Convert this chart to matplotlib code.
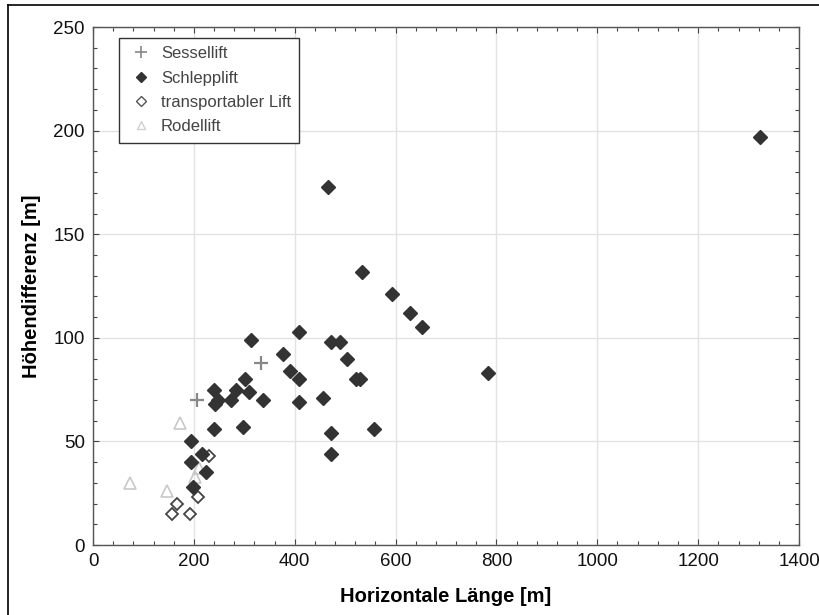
import matplotlib.pyplot as plt
from matplotlib.ticker import MultipleLocator
from matplotlib.lines import Line2D

plt.rcParams['font.family'] = ['Liberation Sans', 'DejaVu Sans']

# Schlepplift
schlepp_x = [313, 376, 391, 239, 283, 301, 309, 337, 248, 242, 274, 239, 298,
             194, 217, 194, 225, 199, 465, 533, 593, 628, 652, 409, 471, 490,
             504, 409, 521, 529, 783, 457, 409, 558, 472, 472, 1323]
schlepp_y = [99, 92, 84, 75, 75, 80, 74, 70, 70, 68, 70, 56, 57,
             50, 44, 40, 35, 28, 173, 132, 121, 112, 105, 103, 98, 98,
             90, 80, 80, 80, 83, 71, 69, 56, 54, 44, 197]

# Sessellift
sessel_x = [207, 334]
sessel_y = [70, 88]

# transportabler Lift
transp_x = [229, 208, 166, 157, 192]
transp_y = [43, 23, 20, 15, 15]

# Rodellift
rodel_x = [172, 74, 147, 202, 211]
rodel_y = [59, 30, 26, 33, 37]

fig = plt.figure(figsize=(8.19, 6.15), dpi=100)
ax = fig.add_axes([0.1136, 0.1138, 0.8620, 0.8422])

ax.plot(rodel_x, rodel_y, linestyle='none', marker='^', ms=8,
        mfc='none', mec='#c8c8c8', mew=1.2, label='Rodellift', zorder=3)
ax.plot(transp_x, transp_y, linestyle='none', marker='D', ms=6.5,
        mfc='white', mec='#444444', mew=1.3, label='transportabler Lift', zorder=4)
ax.plot(schlepp_x, schlepp_y, linestyle='none', marker='D', ms=7,
        mfc='#333333', mec='#333333', label='Schlepplift', zorder=5)
ax.plot(sessel_x, sessel_y, linestyle='none', marker='+', ms=10,
        mec='#888888', mew=1.6, label='Sessellift', zorder=6)

ax.set_xlim(0, 1400)
ax.set_ylim(0, 250)
ax.xaxis.set_major_locator(MultipleLocator(200))
ax.xaxis.set_minor_locator(MultipleLocator(40))
ax.yaxis.set_major_locator(MultipleLocator(50))
ax.yaxis.set_minor_locator(MultipleLocator(10))
ax.tick_params(which='both', direction='in', top=True, right=True,
               color='#444444', width=0.8)
ax.tick_params(which='major', length=4, pad=6, labelsize=13.5, labelcolor='#111111')
ax.tick_params(which='minor', length=3)
ax.grid(True, which='major', color='#e2e2e2', linewidth=1.0)
ax.set_axisbelow(True)
for s in ax.spines.values():
    s.set_color('#555555')
    s.set_linewidth(1.0)

ax.set_xlabel('Horizontale Länge [m]', fontsize=14.5, fontweight='bold')
ax.set_ylabel('Höhendifferenz [m]', fontsize=14.5, fontweight='bold')
ax.xaxis.set_label_coords(0.5, -0.082)
ax.yaxis.set_label_coords(-0.074, 0.5)

handles = [
    Line2D([], [], linestyle='none', marker='+', ms=8, mec='#888888', mew=1.2),
    Line2D([], [], linestyle='none', marker='D', ms=5, mfc='#333333', mec='#333333'),
    Line2D([], [], linestyle='none', marker='D', ms=5, mfc='white', mec='#555555', mew=1.0),
    Line2D([], [], linestyle='none', marker='^', ms=6, mfc='none', mec='#d0d0d0', mew=1.0),
]
labels = ['Sessellift', 'Schlepplift', 'transportabler Lift', 'Rodellift']
leg = ax.legend(handles, labels, loc='upper left', bbox_to_anchor=(0.037, 0.979),
                fontsize=12, frameon=True, fancybox=False, framealpha=1,
                edgecolor='#333333', handletextpad=0.4, handlelength=1.6,
                borderpad=0.5, labelspacing=0.56, borderaxespad=0)
leg.get_frame().set_linewidth(1.0)
for t in leg.get_texts():
    t.set_color('#444444')

# Rahmen um die Abbildung (links und oben)
fig.add_artist(Line2D([8 / 819, 8 / 819], [0, 1 - 5 / 615], transform=fig.transFigure,
                      color='black', linewidth=1.2))
fig.add_artist(Line2D([8 / 819, 1], [1 - 5 / 615, 1 - 5 / 615], transform=fig.transFigure,
                      color='black', linewidth=1.2))

fig.savefig('out.png', dpi=100)
